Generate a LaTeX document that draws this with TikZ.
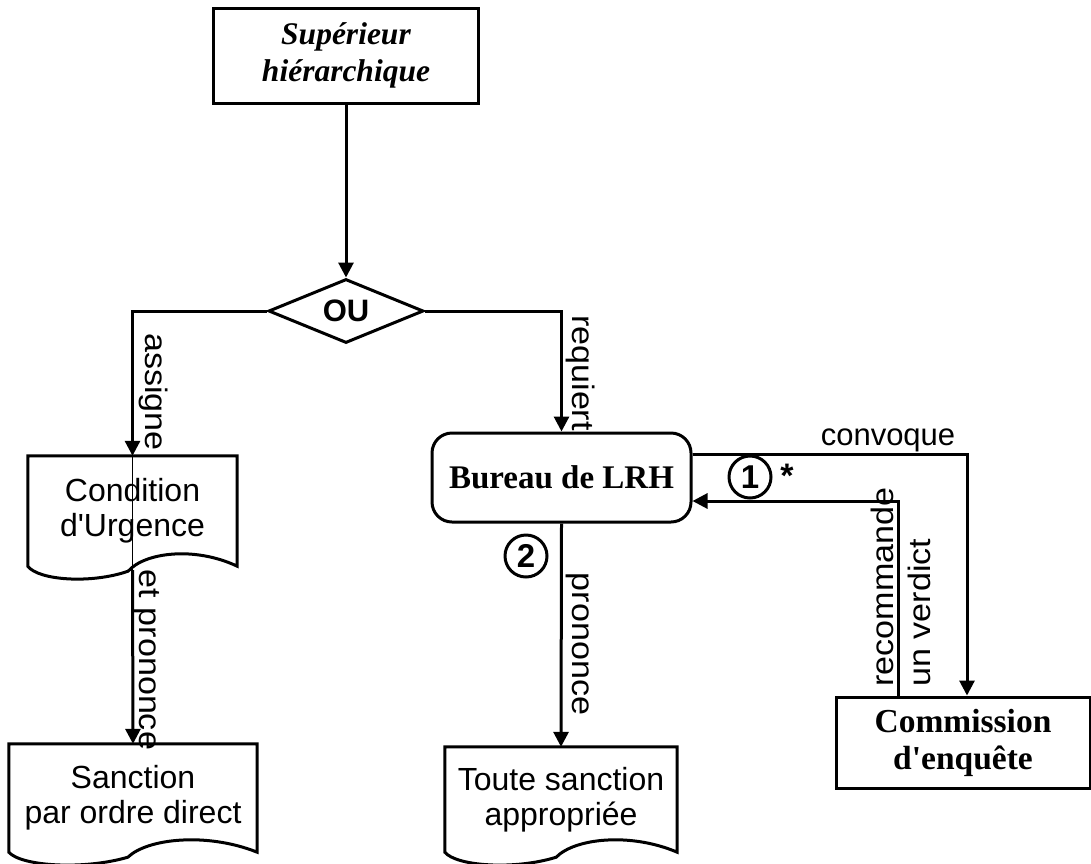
\documentclass[tikz,border=0pt]{standalone}
\usepackage{fontspec}
\setmainfont{Liberation Serif}
\setsansfont{Liberation Sans}
\usetikzlibrary{arrows.meta,shapes.geometric,calc}
\tikzset{
  boxline/.style={line width=3pt, line join=miter},
  plainbox/.style={draw, boxline, rectangle, inner sep=0pt, align=center},
  docbox/.style={rectangle, inner sep=0pt, align=center, font=\sffamily\fontsize{32}{35}\selectfont},
  arr/.style={line width=3pt, -{Triangle[length=15pt,width=15pt]}},
  thinline/.style={line width=1pt},
  lbl/.style={inner sep=0pt, font=\sffamily\fontsize{31}{37}\selectfont},
  vlbl/.style={lbl, rotate=-90},
  num/.style={draw, circle, line width=3pt, minimum size=42pt, inner sep=0pt, font=\sffamily\bfseries\fontsize{33}{33}\selectfont},
}
\newcommand\stretchtext[1]{\scalebox{1.1}[1]{#1}}
\newcommand\docoutline[2]{%
  \draw[boxline] (#1.north west) -- (#1.north east) -- (#1.south east)
    .. controls ($(#1.south west)+({0.8*#2},-20)$) and ($(#1.south west)+({0.56*#2},-14)$) .. ($(#1.south west)+({0.48*#2},5)$)
    .. controls ($(#1.south west)+({0.3*#2},18)$) and ($(#1.south west)+({0.05*#2},14)$) .. (#1.south west) -- cycle;}
\begin{document}
\begin{tikzpicture}[x=1pt,y=-1pt]
\useasboundingbox (0,0) rectangle (1091,863);

% nodes
\node[plainbox, minimum width=265pt, minimum height=95pt,
      font=\rmfamily\bfseries\itshape\fontsize{31.5}{37}\selectfont] (sup) at (346,55.5) {Supérieur\\hiérarchique};
\node[draw, diamond, line width=3pt, aspect=2.4, minimum width=155pt, minimum height=64pt, inner sep=0pt,
      font=\sffamily\bfseries\fontsize{31}{31}\selectfont] (ou) at (346,311) {OU};
\node[docbox, minimum width=209pt, minimum height=110pt] (cond) at (132.5,511) {Condition\\d\textquotesingle Urgence};
\docoutline{cond}{209}
\node[draw, boxline, rounded corners=20pt, minimum width=259pt, minimum height=89pt, inner sep=0pt,
      font=\rmfamily\bfseries\fontsize{33}{36}\selectfont] (bur) at (561.5,477.5) {Bureau de LRH};
\node[plainbox, minimum width=254pt, minimum height=91pt,
      font=\rmfamily\bfseries\fontsize{33.5}{37}\selectfont] (comm) at (963,742.5) {Commission\\d\textquotesingle enquête};
\node[docbox, minimum width=248pt, minimum height=108pt] (sanc) at (133,798) {Sanction\\par ordre direct};
\docoutline{sanc}{248}
\node[docbox, minimum width=232pt, minimum height=105pt] (toute) at (561,799.5) {Toute sanction\\appropriée};
\docoutline{toute}{232}

\coordinate (condB) at ($(cond.south)+(0,4)$);

% connectors
\draw[arr] (sup.south) -- (ou.north);
\draw[arr] (ou.west) -| (cond.north);
\draw[arr] (ou.east) -| (bur.north);
\draw[thinline] (cond.north) -- (condB);
\draw[arr] (condB) -- (sanc.north);
\draw[arr] (bur.south) -- (toute.north);
\draw[arr] ($(bur.east)+(0,-23.5)$) -| ($(comm.north)+(4,0)$);
\draw[arr] ($(comm.north west)+(64,0)$) |- ($(bur.east)+(0,23.5)$);

% labels
\node[vlbl] (lassigne) at (154,392) {\stretchtext{assigne}};
\node[vlbl] (lrequiert) at (581,373) {\stretchtext{requiert}};
\node[vlbl] (letpron) at (146,660) {\stretchtext{et prononce}};
\node[vlbl] (lpron) at (578,644) {\stretchtext{prononce}};
\node[lbl, anchor=base] (lconv) at (888,445) {convoque};
\node[lbl, rotate=90] (lrec) at (905,587) {\stretchtext{\begin{tabular}{@{}l@{}}recommande\\un verdict\end{tabular}}};
\node[num] (n1) at (750,477) {1};
\node[num] (n2) at (526,556) {2};
\node[inner sep=0pt, font=\sffamily\bfseries\fontsize{34}{34}\selectfont] (star) at (787,476) {*};
\end{tikzpicture}
\end{document}
